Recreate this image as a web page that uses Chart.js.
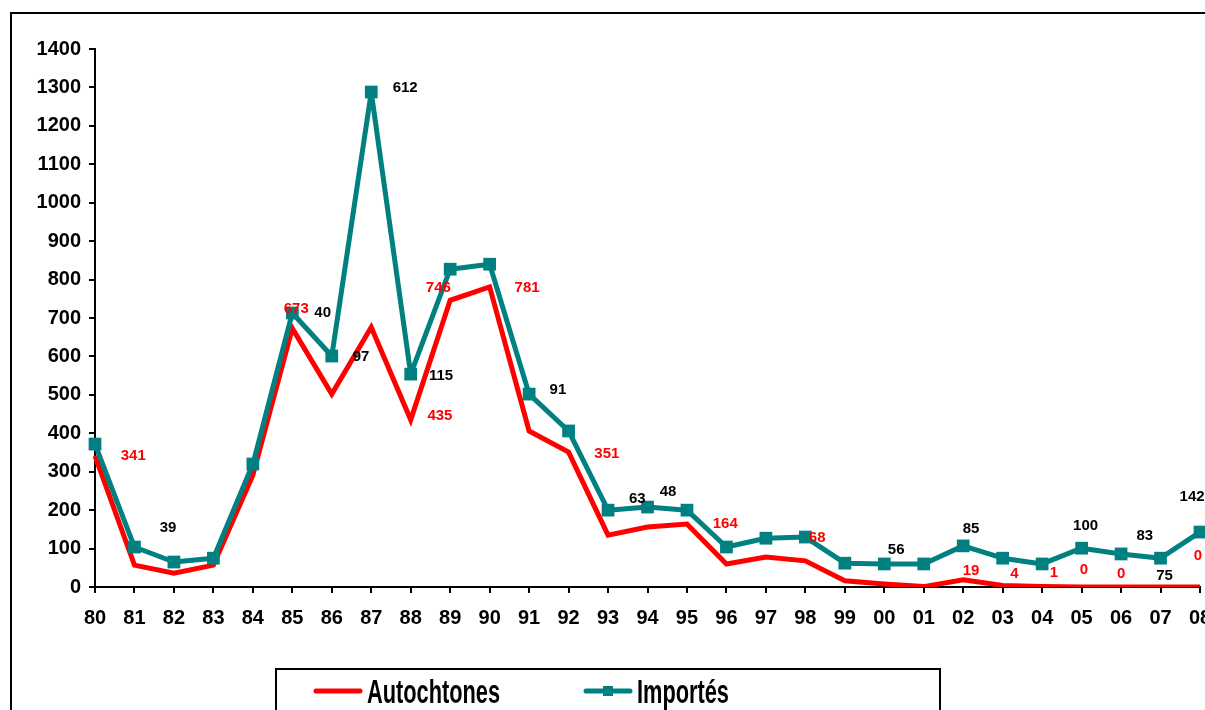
<!DOCTYPE html>
<html>
<head>
<meta charset="utf-8">
<script src="https://cdn.jsdelivr.net/npm/chart.js@4"></script>
<style>
html,body{margin:0;padding:0;background:#fff;overflow:hidden;width:1205px;height:710px;}
#wrap{position:absolute;left:0;top:0;width:1230px;height:710px;}
</style>
</head>
<body>
<div id="wrap"><canvas id="c" width="1230" height="710"></canvas></div>
<script>
// ---- data ----
const years = ["80","81","82","83","84","85","86","87","88","89","90","91","92","93","94","95","96","97","98","99","00","01","02","03","04","05","06","07","08"];
const autochtones = [341,57,36,57,291,673,502,676,435,746,781,406,351,135,156,164,60,78,68,16,8,1,19,4,1,0,0,0,0];
const importes = [372,104,65,75,320,713,601,1288,554,827,840,502,406,200,208,200,104,127,130,62,60,60,107,75,60,101,86,75,143];
const seriesNames = ["Autochtones","Importés"];
const yTicks = [0,100,200,300,400,500,600,700,800,900,1000,1100,1200,1300,1400];

// data labels: text, anchor (category index, value)
const importesLabelText = ["612","40","97","115","91","39","63","48","56","85","100","83","75","142"];
const importesLabelCat  = [7.86,5.77,6.74,8.77,11.73,1.85,13.74,14.52,20.3,22.2,25.1,26.6,27.1,27.8];
const importesLabelVal  = [1298,713,598,549,513,154,229,247,96,151,159,133,29,234];
const autoLabelText = ["341","673","746","781","435","351","164","68","19","4","1","0","0","0"];
const autoLabelCat  = [0.97,5.1,8.7,10.95,8.74,12.97,15.97,18.3,22.2,23.3,24.3,25.06,26.0,27.95];
const autoLabelVal  = [341,723,778,778,445,346,164,127,42,34,36,44,34,81];

const RED = "#FF0000", TEAL = "#008080";
const FONT = "'Liberation Sans', Arial, sans-serif";

const frame = {
  id: 'frame',
  beforeDraw(chart){
    const ctx = chart.ctx;
    ctx.save();
    ctx.fillStyle = '#fff';
    ctx.fillRect(0,0,chart.width,chart.height);
    ctx.strokeStyle = '#000';
    ctx.lineWidth = 2;
    ctx.strokeRect(11,13,1300,800);
    ctx.restore();
  },
  afterDatasetsDraw(chart){
    const ctx = chart.ctx, xs = chart.scales.x, ys = chart.scales.y;
    ctx.save();
    ctx.font = "bold 15px " + FONT;
    ctx.textAlign = 'center';
    ctx.textBaseline = 'middle';
    ctx.fillStyle = '#000';
    importesLabelText.forEach((t,i)=>{
      ctx.fillText(t, xs.getPixelForValue(importesLabelCat[i]), ys.getPixelForValue(importesLabelVal[i]));
    });
    ctx.fillStyle = RED;
    autoLabelText.forEach((t,i)=>{
      ctx.fillText(t, xs.getPixelForValue(autoLabelCat[i]), ys.getPixelForValue(autoLabelVal[i]));
    });
    ctx.restore();
  },
  afterDraw(chart){
    const ctx = chart.ctx;
    ctx.save();
    // legend box
    ctx.strokeStyle = '#000';
    ctx.lineWidth = 2;
    ctx.strokeRect(276,669,664,60);
    ctx.lineCap = 'round';
    ctx.lineWidth = 5;
    ctx.strokeStyle = RED;
    ctx.beginPath(); ctx.moveTo(316,691); ctx.lineTo(360,691); ctx.stroke();
    ctx.strokeStyle = TEAL;
    ctx.beginPath(); ctx.moveTo(586,691); ctx.lineTo(630,691); ctx.stroke();
    ctx.fillStyle = TEAL;
    ctx.fillRect(603,686,10,10);
    ctx.fillStyle = '#000';
    ctx.font = "bold 33px " + FONT;
    ctx.textAlign = 'left';
    ctx.textBaseline = 'alphabetic';
    const sx = 0.66;
    ctx.save(); ctx.translate(367,703); ctx.scale(sx,1); ctx.fillText(seriesNames[0],0,0); ctx.restore();
    ctx.save(); ctx.translate(637,703); ctx.scale(sx,1); ctx.fillText(seriesNames[1],0,0); ctx.restore();
    ctx.restore();
  }
};

new Chart(document.getElementById('c'), {
  type: 'line',
  data: {
    labels: years,
    datasets: [
      {label: seriesNames[0], data: autochtones, borderColor: RED, backgroundColor: RED,
       borderWidth: 5, pointRadius: 0, tension: 0, order: 1, borderJoinStyle: 'miter'},
      {label: seriesNames[1], data: importes, borderColor: TEAL, backgroundColor: TEAL,
       borderWidth: 5, pointStyle: 'rect', pointRadius: 9, pointBorderWidth: 0, tension: 0, order: 0,
       borderJoinStyle: 'bevel'}
    ]
  },
  options: {
    responsive: false,
    animation: false,
    events: [],
    layout: {padding: {left: 0, right: 30, top: 49, bottom: 0}},
    plugins: {legend: {display: false}, tooltip: {enabled: false}},
    scales: {
      x: {
        offset: false,
        grid: {drawOnChartArea: false, drawTicks: true, tickLength: 6, color: '#000', lineWidth: 2},
        border: {color: '#000', width: 2},
        ticks: {color: '#000', font: {family: FONT, size: 20, weight: 'bold'}, padding: 13, maxRotation: 0, autoSkip: false},
        afterFit(s){ s.height = 123; }
      },
      y: {
        min: 0, max: 1400,
        afterBuildTicks(s){ s.ticks = yTicks.map(v=>({value:v})); },
        grid: {drawOnChartArea: false, drawTicks: true, tickLength: 6, color: '#000', lineWidth: 2},
        border: {color: '#000', width: 2},
        ticks: {color: '#000', font: {family: FONT, size: 20, weight: 'bold'}, padding: 8,
                callback: v => String(v)},
        afterFit(s){ s.width = 95; }
      }
    }
  },
  plugins: [frame]
});
</script>
</body>
</html>
